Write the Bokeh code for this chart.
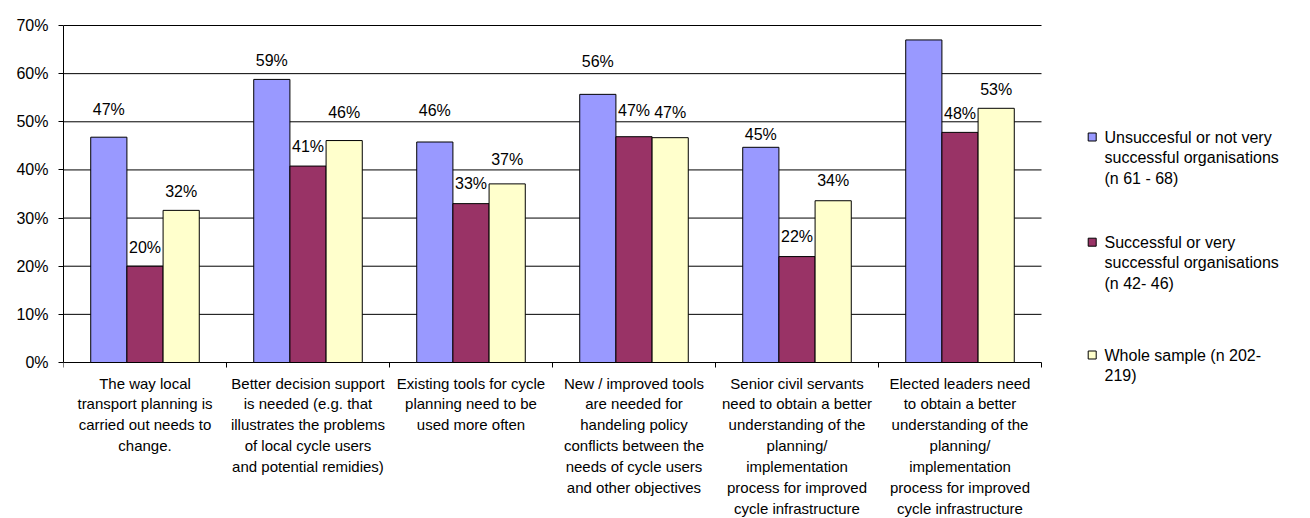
from bokeh.plotting import figure
from bokeh.models import Range1d, FixedTicker, PrintfTickFormatter, ColumnDataSource
from bokeh.transform import dodge
from bokeh.embed import file_html
from bokeh.resources import INLINE
from bokeh.core.properties import value

# ---------------- data ----------------
categories = [
    "The way local\ntransport planning is\ncarried out needs to\nchange.",
    "Better decision support\nis needed (e.g. that\nillustrates the problems\nof local cycle users\nand potential remidies)",
    "Existing tools for cycle\nplanning need to be\nused more often",
    "New / improved tools\nare needed for\nhandeling policy\nconflicts between the\nneeds of cycle users\nand other objectives",
    "Senior civil servants\nneed to obtain a better\nunderstanding of the\nplanning/\nimplementation\nprocess for improved\ncycle infrastructure",
    "Elected leaders need\nto obtain a better\nunderstanding of the\nplanning/\nimplementation\nprocess for improved\ncycle infrastructure",
]
series_names = [
    "Unsuccesful or not very\nsuccessful organisations\n(n 61 - 68)",
    "Successful or very\nsuccessful organisations\n(n 42- 46)",
    "Whole sample (n 202-\n219)",
]
unsuccessful = [46.8, 58.8, 45.8, 55.7, 44.7, 67.0]
successful = [20.0, 40.8, 33.0, 46.9, 22.0, 47.8]
whole_sample = [31.6, 46.1, 37.1, 46.7, 33.6, 52.8]
y_ticks = [0, 10, 20, 30, 40, 50, 60, 70]

# ---------------- style / layout ----------------
colors = ["#9999FF", "#993366", "#FFFFCC"]
FONT = "Liberation Sans"
BAR_W = 0.222
offsets = [-BAR_W, 0.0, BAR_W]
# pixel lift of each value label above its bar (as placed in the original)
label_lift = [
    [28, 19, 32, 33, 13, 25],
    [19, 20, 20, 26, 20, 19],
    [19, 28, 24, 25, 20, 19],
]
TOTAL_W, TOTAL_H = 1310, 518
FRAME_L, FRAME_T = 63, 24
CAT_PX = 163                        # width of one category group in pixels
ZERO_PY = 362                       # pixel row of the 0% line
PX_PER = 337 / 70                   # pixels per percentage point
FRAME_W = TOTAL_W - FRAME_L         # frame also hosts the legend and category texts
FRAME_H = TOTAL_H - FRAME_T
N = len(categories)

series = [unsuccessful, successful, whole_sample]
xs = list(range(N))
data = dict(x=xs, cat=categories)
for k, vals in enumerate(series):
    data[f"v{k}"] = vals
    data[f"t{k}"] = [f"{round(v)}%" for v in vals]
    data[f"o{k}"] = [-l for l in label_lift[k]]
src = ColumnDataSource(data)

X0 = -0.5
X_END = N - 0.5
X1 = X0 + FRAME_W / CAT_PX
Y1 = (ZERO_PY - FRAME_T) / PX_PER
Y0 = -(TOTAL_H - ZERO_PY) / PX_PER

p = figure(
    frame_width=FRAME_W, frame_height=FRAME_H,
    x_range=Range1d(X0, X1), y_range=Range1d(Y0, Y1),
    output_backend="svg", toolbar_location=None,
    min_border_left=FRAME_L, min_border_right=0,
    min_border_top=FRAME_T, min_border_bottom=0,
)
p.outline_line_color = None
p.background_fill_color = "white"
p.xgrid.visible = False
p.ygrid.visible = False
p.xaxis.visible = False


def y_at(py):
    return (ZERO_PY - py) / PX_PER


def x_at(px):
    return X0 + (px - FRAME_L) / CAT_PX


# horizontal gridlines (the 0% one doubles as the category axis line)
p.segment(x0=[X0] * len(y_ticks), y0=y_ticks, x1=[X_END] * len(y_ticks), y1=y_ticks,
          line_color="black", line_width=1, level="underlay")
# category separator ticks below the axis
bounds = [i - 0.5 for i in range(N + 1)]
p.segment(x0=bounds, y0=[0] * len(bounds), x1=bounds, y1=[y_at(ZERO_PY + 5)] * len(bounds),
          line_color="black", line_width=1)

for k in range(3):
    p.vbar(x=dodge("x", offsets[k], range=p.x_range), top=f"v{k}", width=BAR_W,
           source=src, fill_color=colors[k], line_color="black", line_width=1)
for k in range(3):
    p.text(x=dodge("x", offsets[k], range=p.x_range), y=f"v{k}", text=f"t{k}",
           y_offset=f"o{k}", source=src, text_font=value(FONT),
           text_font_size=value("16px"), text_align="center",
           text_baseline="middle", text_color="black")

# category labels under the axis
p.text(x="x", y=0, text="cat", source=src, y_offset=12, text_font=value(FONT),
       text_font_size=value("15px"), text_align="center", text_baseline="top",
       text_line_height=1.235, text_color="black")

ya = p.yaxis[0]
ya.bounds = (0, y_ticks[-1])
ya.ticker = FixedTicker(ticks=y_ticks)
ya.formatter = PrintfTickFormatter(format="%d%%")
ya.major_tick_in = 0
ya.major_tick_out = 5
ya.minor_tick_line_color = None
ya.axis_line_color = "black"
ya.major_tick_line_color = "black"
ya.major_label_text_font = FONT
ya.major_label_text_font_size = "16px"
ya.major_label_text_color = "black"
ya.major_label_standoff = 10

# ---------------- legend (right of the category area) ----------------
item_py = [136.5, 241.7, 354.5]
line_pitch = 20.7
sq_cx, sq_size, txt_px = 1091.7, 8, 1104
p.rect(x=[x_at(sq_cx)] * len(series_names), y=[y_at(py) for py in item_py],
       width=sq_size, height=sq_size, width_units="screen", height_units="screen",
       fill_color=colors, line_color="black", line_width=1)
tx, ty, toff, tt = [], [], [], []
for name, py in zip(series_names, item_py):
    for j, line in enumerate(name.split("\n")):
        tx.append(x_at(txt_px))
        ty.append(y_at(py))
        toff.append(j * line_pitch)
        tt.append(line)
p.text(x=tx, y=ty, y_offset=toff, text=tt, text_font=value(FONT),
       text_font_size=value("16px"), text_align="left", text_baseline="middle",
       text_color="black")

open("out.html", "w").write(file_html(p, INLINE))
